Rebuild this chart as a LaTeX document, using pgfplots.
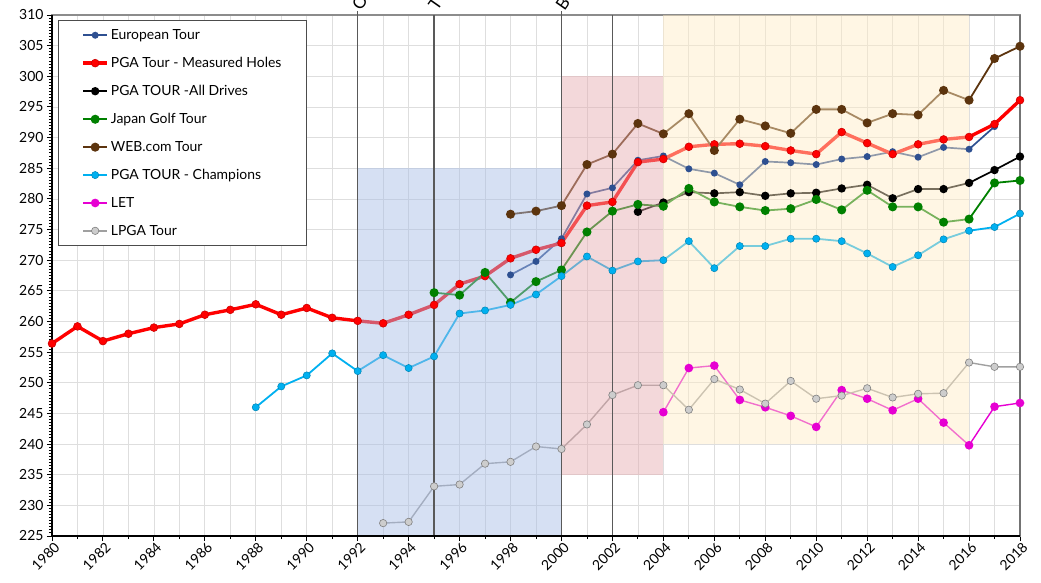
\documentclass[border=0pt]{standalone}
\usepackage{fontspec}
\setmainfont{Lato}
\usepackage{pgfplots}
\pgfplotsset{compat=1.18}
\definecolor{eurc}{RGB}{46,80,145}
\definecolor{pgac}{RGB}{255,0,0}
\definecolor{webc}{RGB}{92,52,14}
\definecolor{japc}{RGB}{0,128,0}
\definecolor{chac}{RGB}{0,176,240}
\definecolor{letc}{RGB}{230,0,210}
\definecolor{lpgac}{RGB}{160,160,160}
\definecolor{lpgaf}{RGB}{205,205,205}
\definecolor{ovblue}{RGB}{168,189,229}
\definecolor{ovpink}{RGB}{230,172,176}
\definecolor{ovyell}{RGB}{255,236,198}
\begin{document}
\begin{tikzpicture}
\begin{axis}[
  at={(0bp,0bp)}, anchor=south west,
  scale only axis, width=968bp, height=521bp,
  xmin=1980, xmax=2018, ymin=225, ymax=310,
  xtick distance=2, minor x tick num=1,
  ytick distance=5, minor y tick num=9,
  xmajorgrids, xminorgrids, ymajorgrids,
  major grid style={black!13, line width=0.7pt},
  minor grid style={black!13, line width=0.7pt},
  xtick pos=bottom, ytick pos=left, tick align=outside,
  major tick length=5bp, minor tick length=3bp,
  tick style={black, line width=0.9pt},
  /pgf/number format/1000 sep={},
  /pgf/number format/assume math mode=true,
  xticklabel style={rotate=45, anchor=north east, font=\fontsize{14}{14}\selectfont, inner sep=1bp, xshift=2bp},
  yticklabel style={font=\fontsize{14}{14}\selectfont},
  axis line style={black!45, line width=1.2pt},
  clip=false,
  legend cell align=left,
  legend image code/.code={\draw[mark repeat=2,mark phase=2,#1] plot coordinates {(0bp,0bp) (12bp,0bp) (24bp,0bp)};},
  legend style={at={(0.0062,0.9904)}, anchor=north west, draw=black!70, line width=1pt, fill=white,
    font=\fontsize{14}{14}\selectfont, inner xsep=23bp, inner ysep=7bp, row sep=12.3bp},
]
\addplot[eurc, line width=1.7pt, mark=*, mark size=2.6bp, mark options={fill=eurc}] coordinates {
(1998,267.6)(1999,269.8)(2000,273.5)(2001,280.8)(2002,281.8)(2003,286.3)(2004,287.0)(2005,284.9)(2006,284.2)(2007,282.3)(2008,286.1)(2009,285.9)(2010,285.6)(2011,286.5)(2012,286.9)(2013,287.7)(2014,286.8)(2015,288.4)(2016,288.1)(2017,291.8)};
\addlegendentry{European Tour}
\addplot[pgac, line width=3.4pt, mark=*, mark size=3.9bp, mark options={fill=pgac, line width=0.6pt, draw=pgac!80!black}] coordinates {
(1980,256.4)(1981,259.2)(1982,256.8)(1983,258.0)(1984,259.0)(1985,259.6)(1986,261.1)(1987,261.9)(1988,262.8)(1989,261.1)(1990,262.2)(1991,260.6)(1992,260.1)(1993,259.7)(1994,261.1)(1995,262.7)(1996,266.1)(1997,267.4)(1998,270.3)(1999,271.7)(2000,272.8)(2001,278.9)(2002,279.5)(2003,286.0)(2004,286.5)(2005,288.5)(2006,288.9)(2007,289.0)(2008,288.6)(2009,287.9)(2010,287.3)(2011,290.9)(2012,289.1)(2013,287.3)(2014,288.9)(2015,289.7)(2016,290.1)(2017,292.2)(2018,296.1)};
\addlegendentry{PGA Tour - Measured Holes}
\addplot[black, line width=1.7pt, mark=*, mark size=3.3bp, mark options={fill=black}] coordinates {
(2003,277.9)(2004,279.4)(2005,281.1)(2006,280.9)(2007,281.1)(2008,280.5)(2009,280.9)(2010,281.0)(2011,281.7)(2012,282.3)(2013,280.1)(2014,281.6)(2015,281.6)(2016,282.6)(2017,284.7)(2018,286.9)};
\addlegendentry{PGA TOUR -All Drives}
\addplot[japc, line width=1.8pt, mark=*, mark size=3.6bp, mark options={fill=japc}] coordinates {
(1995,264.7)(1996,264.3)(1997,268.0)(1998,263.1)(1999,266.5)(2000,268.4)(2001,274.6)(2002,278.0)(2003,279.1)(2004,278.8)(2005,281.7)(2006,279.5)(2007,278.7)(2008,278.1)(2009,278.4)(2010,279.9)(2011,278.2)(2012,281.4)(2013,278.7)(2014,278.7)(2015,276.2)(2016,276.7)(2017,282.6)(2018,283.0)};
\addlegendentry{Japan Golf Tour}
\addplot[webc, line width=1.8pt, mark=*, mark size=3.6bp, mark options={fill=webc}] coordinates {
(1998,277.5)(1999,278.0)(2000,278.9)(2001,285.6)(2002,287.3)(2003,292.3)(2004,290.6)(2005,293.9)(2006,287.9)(2007,293.0)(2008,291.9)(2009,290.7)(2010,294.6)(2011,294.6)(2012,292.4)(2013,293.9)(2014,293.7)(2015,297.7)(2016,296.1)(2017,302.9)(2018,304.9)};
\addlegendentry{WEB.com Tour}
\addplot[chac, line width=1.8pt, mark=*, mark size=3.6bp, mark options={fill=chac, draw=chac!75!black, line width=0.5pt}] coordinates {
(1988,246.0)(1989,249.4)(1990,251.2)(1991,254.8)(1992,251.9)(1993,254.5)(1994,252.4)(1995,254.3)(1996,261.3)(1997,261.8)(1998,262.7)(1999,264.4)(2000,267.4)(2001,270.6)(2002,268.3)(2003,269.8)(2004,270.0)(2005,273.1)(2006,268.7)(2007,272.3)(2008,272.3)(2009,273.5)(2010,273.5)(2011,273.1)(2012,271.1)(2013,268.9)(2014,270.8)(2015,273.4)(2016,274.8)(2017,275.4)(2018,277.6)};
\addlegendentry{PGA TOUR - Champions}
\addplot[letc, line width=1.4pt, mark=*, mark size=3.6bp, mark options={fill=letc}] coordinates {
(2004,245.2)(2005,252.4)(2006,252.8)(2007,247.2)(2008,246.0)(2009,244.6)(2010,242.8)(2011,248.8)(2012,247.4)(2013,245.5)(2014,247.4)(2015,243.5)(2016,239.8)(2017,246.1)(2018,246.7)};
\addlegendentry{LET}
\addplot[lpgac, line width=1.4pt, mark=*, mark size=3.7bp, mark options={fill=lpgaf, draw=lpgac!80!black, line width=0.6pt}] coordinates {
(1993,227.1)(1994,227.3)(1995,233.1)(1996,233.4)(1997,236.8)(1998,237.1)(1999,239.6)(2000,239.2)(2001,243.2)(2002,248.0)(2003,249.6)(2004,249.6)(2005,245.6)(2006,250.6)(2007,248.9)(2008,246.6)(2009,250.3)(2010,247.4)(2011,247.9)(2012,249.1)(2013,247.6)(2014,248.2)(2015,248.3)(2016,253.3)(2017,252.6)(2018,252.6)};
\addlegendentry{LPGA Tour}
% translucent period overlays
\fill[ovblue, fill opacity=0.47] (axis cs:1992,225) rectangle (axis cs:2000,285);
\fill[ovpink, fill opacity=0.47] (axis cs:2000,235) rectangle (axis cs:2004,300);
\fill[ovyell, fill opacity=0.47] (axis cs:2004,240) rectangle (axis cs:2016,310);
% event lines
\draw[black!65, line width=1.3pt] (axis cs:1992,225) -- (axis cs:1992,310.7);
\draw[black!65, line width=1.3pt] (axis cs:1995,225) -- (axis cs:1995,310);
\draw[black!65, line width=1.3pt] (axis cs:2000,225) -- (axis cs:2000,310.7);
\draw[black!65, line width=1.3pt] (axis cs:2002,225) -- (axis cs:2002,310);
\draw[black!55, line width=1.8pt] (axis cs:2018,225) -- (axis cs:2018,310);
% left and bottom axis lines
\draw[black, line width=2.2pt] (rel axis cs:0,1) -- (rel axis cs:0,0) -- (rel axis cs:1,0);
% event labels, cut by the top edge as in the reference
\node[rotate=55, anchor=base west, inner sep=0, font=\fontsize{17}{17}\selectfont] at (axis cs:1992.12,310.6) {O};
\node[rotate=55, anchor=base west, inner sep=0, font=\fontsize{17}{17}\selectfont] at (axis cs:1995.12,310.6) {T};
\node[rotate=55, anchor=base west, inner sep=0, font=\fontsize{17}{17}\selectfont] at (axis cs:2000.12,310.6) {B};
\end{axis}
\pgfresetboundingbox
\useasboundingbox (-52bp,-47bp) rectangle (989bp,536bp);
\end{tikzpicture}
\end{document}
